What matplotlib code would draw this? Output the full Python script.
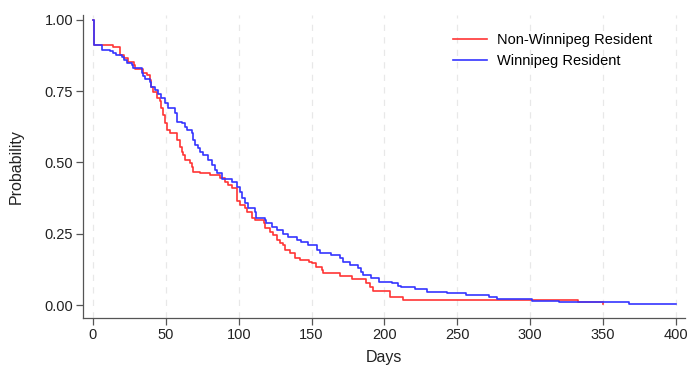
# Kaplan-Meier style survival curves, Winnipeg vs non-Winnipeg residents

import matplotlib
matplotlib.use('Agg')
import matplotlib.pyplot as plt

#================================================
# Data

red_days = [0, 1, 14, 18.5, 21, 24, 28, 29, 34.5, 37, 39, 40, 41.4, 43.7, 46, 47, 48,
            49.4, 50.6, 52.8, 57.4, 59.7, 60.8, 62, 63, 66.6, 67.7, 68.8, 73.4, 80,
            87, 90.6, 92.8, 95.2, 99, 101, 104, 105.5, 109, 111, 117, 118, 121.4,
            123.7, 126, 128, 130.6, 131.7, 135, 138.6, 142, 148, 150, 153, 157, 158,
            169.5, 178, 187, 190, 192, 204, 213, 333, 350]
red_surv = [1.0, 0.912, 0.905, 0.877, 0.866, 0.854, 0.842, 0.827, 0.813, 0.807, 0.789,
            0.766, 0.748, 0.725, 0.715, 0.69, 0.667, 0.637, 0.614, 0.602, 0.579, 0.555,
            0.538, 0.526, 0.509, 0.497, 0.485, 0.468, 0.462, 0.456, 0.444, 0.433,
            0.421, 0.41, 0.365, 0.351, 0.339, 0.327, 0.304, 0.298, 0.287, 0.269,
            0.257, 0.246, 0.228, 0.219, 0.21, 0.193, 0.181, 0.164, 0.158, 0.152,
            0.146, 0.134, 0.122, 0.111, 0.102, 0.09, 0.076, 0.064, 0.049, 0.029,
            0.019, 0.01, 0.005]

blue_days = [0, 1, 6, 11.7, 14, 16, 19.7, 21, 23, 26.5, 27.7, 33.4, 34.5, 35.7, 39, 40,
             42.5, 44.8, 47, 49.4, 51.7, 56, 57.4, 60.8, 63, 64.3, 67.7, 68.8, 70,
             72.3, 73.4, 75.7, 79, 81.4, 83.7, 84.9, 88.3, 95.2, 98.6, 101, 102, 104,
             106.6, 111, 112, 118, 119, 122.6, 126, 130.6, 134, 139.7, 143, 147.7,
             153.5, 156, 163, 169.5, 171.5, 176, 182, 184, 185, 191, 196, 205, 209,
             211, 221, 229, 243, 256, 272, 277, 301, 320, 368, 400]
blue_surv = [1.0, 0.912, 0.895, 0.891, 0.883, 0.877, 0.869, 0.86, 0.85, 0.842, 0.83,
             0.813, 0.804, 0.792, 0.784, 0.766, 0.754, 0.74, 0.725, 0.707, 0.69, 0.672,
             0.643, 0.637, 0.626, 0.614, 0.602, 0.579, 0.561, 0.55, 0.538, 0.526,
             0.509, 0.491, 0.474, 0.464, 0.441, 0.433, 0.415, 0.398, 0.374, 0.357,
             0.339, 0.327, 0.304, 0.298, 0.287, 0.275, 0.263, 0.25, 0.24, 0.228,
             0.222, 0.21, 0.193, 0.184, 0.175, 0.164, 0.152, 0.14, 0.129, 0.117,
             0.105, 0.094, 0.082, 0.076, 0.067, 0.064, 0.056, 0.047, 0.041, 0.035,
             0.027, 0.021, 0.014, 0.0095, 0.0025, 0.0025]

x_ticks = [0, 50, 100, 150, 200, 250, 300, 350, 400]
y_ticks = [0.0, 0.25, 0.5, 0.75, 1.0]
y_labels = ['0.00', '0.25', '0.50', '0.75', '1.00']

#================================================
# Figure

plt.rcParams['font.family'] = ['Liberation Sans', 'DejaVu Sans']

fig = plt.figure(figsize=(6.95, 3.76), dpi=100)
ax = fig.add_axes([83 / 695, 58 / 376, 602 / 695, 303 / 376])

for x in x_ticks:
    ax.axvline(x, color='#e8e8e8', lw=0.9, ls=(0, (5, 5)), zorder=0)

ax.plot(red_days, red_surv, drawstyle='steps-post', color='#ff3535', lw=1.2,
        label='Non-Winnipeg Resident')
ax.plot(blue_days, blue_surv, drawstyle='steps-post', color='#3535ff', lw=1.2,
        label='Winnipeg Resident')

ax.set_xlim(-6.86, 406.2)
ax.set_ylim(-0.0456, 1.0175)
ax.set_xticks(x_ticks)
ax.set_yticks(y_ticks)
ax.set_yticklabels(y_labels)

for s in ['top', 'right']:
    ax.spines[s].set_visible(False)
for s in ['left', 'bottom']:
    ax.spines[s].set_color('#555555')
    ax.spines[s].set_linewidth(0.9)
ax.tick_params(direction='out', length=5, width=0.9, color='#555555',
               labelsize=10.5, labelcolor='#222222', pad=2)

ax.set_xlabel('Days', fontsize=11.5, color='#222222', labelpad=6)
ax.set_ylabel('Probability', fontsize=11.5, color='#222222', labelpad=15)

ax.legend(loc='upper left', bbox_to_anchor=(0.615, 0.94), frameon=False,
          fontsize=10.5, handlelength=2.33, handletextpad=0.7, labelspacing=0.5,
          borderpad=0, borderaxespad=0)

fig.savefig('out.png', dpi=100)
